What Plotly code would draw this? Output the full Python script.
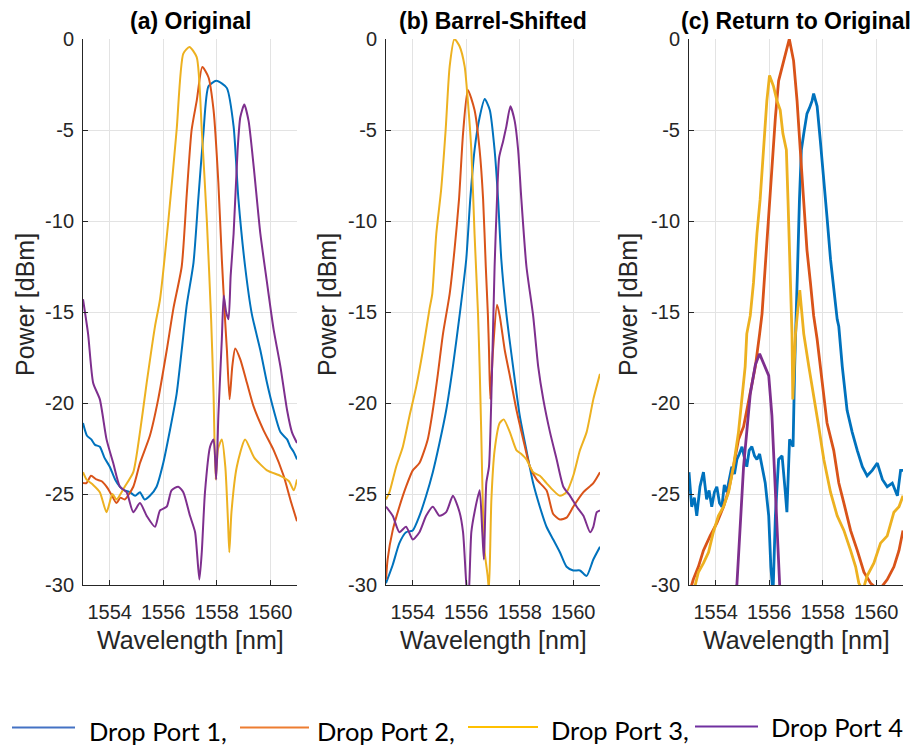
import plotly.graph_objects as go

# ---------------- data (wavelength in nm, power in dBm) ----------------
# Panel (a) Original
a_p1_x = [1553.0, 1553.15, 1553.31, 1553.45, 1553.63, 1553.8, 1554.0, 1554.2, 1554.38, 1554.55, 1554.75, 1554.95, 1555.13, 1555.3, 1555.5, 1555.75, 1556.0, 1556.25, 1556.5, 1556.69, 1556.88, 1557.13, 1557.31, 1557.5, 1557.69, 1557.98, 1558.2, 1558.38, 1558.63, 1558.81, 1559.06, 1559.31, 1559.63, 1559.88, 1560.13, 1560.38, 1560.63, 1560.75, 1560.88, 1561.0]
a_p1_y = [-21.1, -21.8, -22.0, -22.3, -22.4, -23.0, -23.5, -24.2, -24.6, -24.8, -24.9, -25.1, -24.9, -25.3, -25.1, -24.6, -23.3, -21.5, -19.5, -17.1, -14.6, -12.3, -8.8, -5.2, -2.6, -2.3, -2.45, -2.7, -4.8, -8.8, -12.5, -15.1, -17.1, -18.9, -20.4, -21.6, -22.0, -22.4, -22.7, -23.1]

a_p2_x = [1553.0, 1553.13, 1553.3, 1553.5, 1553.7, 1553.88, 1554.05, 1554.25, 1554.4, 1554.56, 1554.88, 1555.13, 1555.5, 1555.81, 1556.13, 1556.38, 1556.69, 1556.88, 1557.06, 1557.25, 1557.46, 1557.69, 1557.88, 1558.06, 1558.19, 1558.31, 1558.38, 1558.48, 1558.58, 1558.69, 1558.88, 1559.13, 1559.38, 1559.75, 1560.13, 1560.5, 1560.75, 1561.0]
a_p2_y = [-24.4, -24.4, -24.0, -24.2, -24.3, -24.6, -25.0, -25.5, -25.2, -25.3, -24.6, -23.3, -21.8, -19.8, -17.1, -14.8, -12.5, -8.5, -5.0, -3.4, -1.54, -2.1, -3.9, -7.9, -12.1, -15.4, -17.1, -19.8, -18.0, -17.0, -17.6, -18.9, -20.2, -21.5, -22.6, -24.0, -25.3, -26.5]

a_p3_x = [1553.0, 1553.13, 1553.38, 1553.63, 1553.88, 1554.1, 1554.25, 1554.56, 1554.88, 1555.13, 1555.38, 1555.69, 1555.88, 1556.19, 1556.5, 1556.75, 1556.98, 1557.25, 1557.44, 1557.63, 1557.79, 1557.88, 1557.96, 1558.05, 1558.19, 1558.32, 1558.42, 1558.47, 1558.55, 1558.75, 1559.06, 1559.4, 1559.88, 1560.38, 1560.7, 1560.88, 1561.0]
a_p3_y = [-23.8, -24.2, -24.5, -24.9, -26.0, -25.0, -25.3, -24.6, -23.8, -21.6, -18.9, -15.8, -14.3, -10.0, -5.0, -0.8, -0.44, -1.0, -5.0, -10.0, -15.4, -19.5, -24.2, -22.5, -22.0, -23.5, -26.5, -28.2, -26.0, -23.5, -22.0, -23.0, -23.7, -24.0, -24.3, -24.8, -24.2]

a_p4_x = [1553.0, 1553.19, 1553.38, 1553.63, 1553.88, 1554.13, 1554.38, 1554.63, 1554.88, 1555.13, 1555.38, 1555.69, 1555.88, 1556.13, 1556.31, 1556.56, 1556.75, 1557.0, 1557.19, 1557.35, 1557.44, 1557.56, 1557.75, 1557.88, 1557.98, 1558.06, 1558.19, 1558.26, 1558.35, 1558.44, 1558.52, 1558.63, 1558.78, 1558.88, 1559.03, 1559.19, 1559.38, 1559.63, 1559.88, 1560.03, 1560.13, 1560.38, 1560.63, 1560.81, 1561.0]
a_p4_y = [-14.3, -16.2, -18.9, -19.8, -22.0, -23.3, -24.6, -24.9, -26.0, -25.5, -26.2, -26.8, -25.9, -25.7, -24.8, -24.6, -24.9, -26.2, -27.1, -29.7, -28.2, -24.9, -22.4, -22.0, -24.2, -20.7, -16.5, -14.1, -15.0, -15.4, -13.0, -10.7, -6.1, -4.3, -3.6, -4.5, -7.0, -10.7, -13.4, -15.0, -16.0, -18.0, -20.4, -21.6, -22.2]

# Panel (b) Barrel-Shifted
b_p1_x = [1553.0, 1553.25, 1553.5, 1553.75, 1554.0, 1554.25, 1554.5, 1554.75, 1555.0, 1555.25, 1555.5, 1555.75, 1556.0, 1556.15, 1556.31, 1556.5, 1556.69, 1556.88, 1557.06, 1557.19, 1557.31, 1557.5, 1557.75, 1558.0, 1558.25, 1558.5, 1558.75, 1559.0, 1559.25, 1559.5, 1559.75, 1560.0, 1560.25, 1560.5, 1560.75, 1561.0]
b_p1_y = [-29.9, -28.9, -27.7, -27.1, -27.0, -26.2, -25.1, -23.8, -22.2, -20.4, -18.0, -15.2, -12.1, -8.8, -6.1, -4.3, -3.3, -3.9, -6.1, -8.8, -12.1, -15.1, -18.0, -20.7, -22.6, -24.4, -25.7, -26.8, -27.5, -28.2, -29.0, -29.2, -29.2, -29.5, -28.6, -27.9]

b_p2_x = [1553.0, 1553.06, 1553.25, 1553.5, 1553.75, 1554.0, 1554.25, 1554.56, 1554.75, 1554.94, 1555.13, 1555.38, 1555.56, 1555.73, 1555.88, 1556.06, 1556.31, 1556.5, 1556.63, 1556.73, 1556.81, 1556.85, 1556.9, 1557.0, 1557.15, 1557.25, 1557.44, 1557.63, 1557.88, 1558.13, 1558.38, 1558.63, 1559.0, 1559.25, 1559.5, 1559.75, 1560.0, 1560.38, 1560.75, 1561.0]
b_p2_y = [-29.7, -28.6, -27.0, -25.7, -24.6, -23.7, -23.3, -22.0, -20.4, -18.4, -16.2, -14.0, -11.6, -8.8, -5.2, -2.8, -3.9, -6.1, -8.8, -12.5, -15.2, -17.1, -19.8, -17.1, -14.6, -15.2, -17.1, -18.5, -20.4, -22.0, -23.5, -24.2, -24.8, -26.1, -26.4, -26.3, -25.7, -24.9, -24.4, -23.8]

b_p3_x = [1553.0, 1553.13, 1553.38, 1553.63, 1553.88, 1554.13, 1554.38, 1554.63, 1554.73, 1554.88, 1555.06, 1555.23, 1555.38, 1555.56, 1555.75, 1555.94, 1556.06, 1556.19, 1556.31, 1556.44, 1556.5, 1556.56, 1556.63, 1556.69, 1556.8, 1556.85, 1556.94, 1557.06, 1557.25, 1557.4, 1557.63, 1557.88, 1558.06, 1558.25, 1558.5, 1558.75, 1559.0, 1559.25, 1559.5, 1559.75, 1560.0, 1560.25, 1560.5, 1560.75, 1561.0]
b_p3_y = [-25.3, -24.9, -23.5, -22.4, -20.7, -19.1, -17.1, -14.8, -14.0, -10.7, -8.3, -5.0, -1.5, 0.0, -0.4, -1.5, -3.4, -6.1, -10.7, -15.1, -18.0, -21.6, -26.2, -28.2, -29.5, -30.3, -25.3, -22.6, -21.1, -20.9, -21.6, -22.6, -22.8, -23.1, -23.8, -24.0, -24.4, -24.8, -25.1, -24.9, -24.0, -22.6, -21.6, -19.8, -18.4]

b_p4_x = [1553.0, 1553.25, 1553.5, 1553.75, 1554.0, 1554.25, 1554.5, 1554.75, 1555.0, 1555.25, 1555.5, 1555.75, 1555.88, 1556.0, 1556.08, 1556.19, 1556.31, 1556.5, 1556.6, 1556.66, 1556.75, 1556.85, 1556.94, 1557.06, 1557.15, 1557.23, 1557.38, 1557.5, 1557.65, 1557.81, 1557.94, 1558.06, 1558.25, 1558.5, 1558.69, 1558.88, 1559.13, 1559.38, 1559.63, 1559.88, 1560.13, 1560.38, 1560.63, 1560.75, 1560.88, 1561.0]
b_p4_y = [-25.7, -26.2, -27.1, -26.8, -27.5, -27.1, -26.2, -25.7, -26.2, -26.0, -25.1, -26.0, -27.1, -29.9, -31.0, -27.1, -26.0, -24.8, -27.1, -28.6, -24.4, -23.5, -19.6, -12.5, -8.8, -6.5, -5.6, -4.8, -3.7, -4.5, -6.1, -8.8, -12.5, -15.2, -18.0, -19.8, -21.6, -23.1, -24.6, -25.1, -25.7, -26.2, -27.1, -26.8, -26.0, -25.9]

# Panel (c) Return to Original
c_p1_x = [1553.0, 1553.1, 1553.2, 1553.29, 1553.41, 1553.54, 1553.66, 1553.75, 1553.85, 1553.95, 1554.04, 1554.14, 1554.23, 1554.32, 1554.41, 1554.5, 1554.6, 1554.7, 1554.79, 1554.88, 1554.98, 1555.07, 1555.16, 1555.25, 1555.35, 1555.45, 1555.54, 1555.64, 1555.73, 1555.85, 1555.98, 1556.06, 1556.14, 1556.23, 1556.35, 1556.48, 1556.6, 1556.66, 1556.76, 1556.89, 1556.95, 1557.01, 1557.06, 1557.13, 1557.2, 1557.29, 1557.41, 1557.5, 1557.6, 1557.66, 1557.72, 1557.79, 1557.91, 1558.04, 1558.16, 1558.29, 1558.41, 1558.54, 1558.6, 1558.73, 1558.91, 1559.1, 1559.29, 1559.48, 1559.66, 1559.85, 1560.04, 1560.23, 1560.41, 1560.6, 1560.79, 1560.91, 1561.0]
c_p1_y = [-23.8, -25.7, -25.2, -26.2, -24.6, -23.8, -25.3, -24.8, -25.7, -24.9, -24.6, -25.5, -25.7, -24.5, -24.9, -24.2, -23.5, -23.9, -23.1, -22.8, -22.4, -23.0, -23.5, -22.6, -22.4, -22.9, -23.1, -22.8, -23.5, -24.4, -26.2, -29.0, -30.5, -26.2, -23.1, -22.9, -24.9, -26.0, -22.0, -22.4, -18.0, -14.3, -12.5, -8.8, -6.1, -5.2, -4.1, -3.8, -3.4, -3.0, -3.3, -3.7, -5.6, -7.6, -9.8, -12.1, -13.8, -15.4, -15.8, -18.0, -20.4, -21.6, -22.6, -23.5, -24.0, -23.7, -23.3, -24.2, -24.6, -24.4, -25.1, -23.7, -23.7]

c_p2_x = [1553.0, 1553.16, 1553.35, 1553.54, 1553.79, 1554.04, 1554.29, 1554.48, 1554.66, 1554.85, 1555.04, 1555.29, 1555.48, 1555.64, 1555.73, 1555.85, 1555.98, 1556.1, 1556.23, 1556.35, 1556.48, 1556.6, 1556.75, 1556.91, 1557.04, 1557.16, 1557.29, 1557.41, 1557.54, 1557.66, 1557.79, 1557.98, 1558.16, 1558.41, 1558.6, 1558.79, 1559.04, 1559.29, 1559.54, 1559.79, 1560.1, 1560.41, 1560.66, 1560.85, 1561.0]
c_p2_y = [-30.5, -29.7, -29.0, -28.1, -27.3, -26.6, -25.7, -24.8, -23.5, -22.0, -21.3, -19.5, -18.0, -16.2, -15.1, -12.5, -9.7, -7.0, -4.3, -2.3, -1.5, -0.8, 0.0, -1.2, -3.4, -6.1, -8.8, -11.6, -13.4, -15.2, -16.5, -18.9, -21.1, -22.6, -24.4, -25.5, -27.0, -28.1, -29.3, -29.9, -30.3, -29.7, -29.0, -28.1, -27.0]

c_p3_x = [1553.0, 1553.2, 1553.35, 1553.54, 1553.73, 1553.91, 1554.1, 1554.29, 1554.48, 1554.66, 1554.85, 1554.98, 1555.1, 1555.16, 1555.29, 1555.41, 1555.54, 1555.66, 1555.79, 1555.91, 1556.01, 1556.16, 1556.29, 1556.41, 1556.51, 1556.64, 1556.7, 1556.76, 1556.81, 1556.85, 1556.88, 1556.98, 1557.14, 1557.29, 1557.48, 1557.66, 1557.85, 1558.04, 1558.29, 1558.54, 1558.79, 1559.04, 1559.23, 1559.35, 1559.5, 1559.66, 1559.91, 1560.16, 1560.41, 1560.66, 1560.85, 1561.0]
c_p3_y = [-31.0, -30.2, -29.3, -28.8, -28.2, -27.1, -26.2, -25.7, -24.9, -23.5, -21.6, -19.8, -18.0, -16.2, -15.2, -13.4, -10.7, -8.8, -6.1, -3.4, -2.0, -2.6, -3.4, -3.9, -5.2, -6.1, -8.8, -11.6, -14.3, -16.2, -19.8, -16.2, -13.8, -16.2, -18.0, -19.5, -21.3, -23.1, -24.9, -26.2, -27.0, -28.1, -29.0, -29.9, -30.3, -29.5, -28.8, -27.7, -27.3, -26.0, -25.7, -25.1]

c_p4_x = [1553.0, 1553.5, 1554.0, 1554.5, 1554.79, 1555.04, 1555.29, 1555.48, 1555.64, 1555.79, 1555.98, 1556.1, 1556.19, 1556.29, 1556.39, 1556.6, 1557.0, 1558.0, 1559.0, 1560.0, 1561.0]
c_p4_y = [-36.0, -36.0, -35.0, -34.0, -30.0, -23.5, -19.5, -17.9, -17.3, -17.8, -18.5, -20.7, -23.5, -27.1, -30.0, -34.0, -36.0, -38.0, -38.0, -38.0, -38.0]

series_names = ["Drop Port 1", "Drop Port 2", "Drop Port 3", "Drop Port 4"]
panel_titles = ["(a) Original", "(b) Barrel-Shifted", "(c) Return to Original"]
x_ticks = [1554, 1556, 1558, 1560]
y_ticks = [0, -5, -10, -15, -20, -25, -30]
x_range = [1553, 1561]
y_range = [-30, 0]
legend_labels = ["Drop Port 1,", "Drop Port 2,", "Drop Port 3,", "Drop Port 4"]

panels = [
    [(a_p1_x, a_p1_y), (a_p2_x, a_p2_y), (a_p3_x, a_p3_y), (a_p4_x, a_p4_y)],
    [(b_p1_x, b_p1_y), (b_p2_x, b_p2_y), (b_p3_x, b_p3_y), (b_p4_x, b_p4_y)],
    [(c_p1_x, c_p1_y), (c_p2_x, c_p2_y), (c_p3_x, c_p3_y), (c_p4_x, c_p4_y)],
]

# ---------------- styling ----------------
W, H = 912, 749
line_colors = ["#0072BD", "#D95319", "#EDB120", "#7E2F8E"]
legend_colors = ["#4472C4", "#ED7D31", "#FFC000", "#7030A0"]
line_widths = [2.0, 2.0, 2.8]
line_shapes = ["spline", "spline", "linear"]
ax_left_px = [83, 386, 689]
ax_width_px = 214
ax_top_px, ax_bot_px = 39, 585
ylabel_x_px = [25, 327, 628]
axis_gray = "#262626"
font_main = "Liberation Sans, Arial, sans-serif"

fig = go.Figure()
for pi, panel in enumerate(panels):
    suffix = "" if pi == 0 else str(pi + 1)
    for si, (xs, ys) in enumerate(panel):
        line = dict(color=line_colors[si], width=line_widths[pi], shape=line_shapes[pi])
        if line_shapes[pi] == "spline":
            line["smoothing"] = 0.6
        fig.add_trace(go.Scatter(
            x=xs, y=ys, mode="lines", name=series_names[si], line=line,
            xaxis="x" + suffix, yaxis="y" + suffix, showlegend=False,
        ))

layout = dict(
    width=W, height=H, margin=dict(l=0, r=0, t=0, b=0, autoexpand=False),
    paper_bgcolor="white", plot_bgcolor="white", showlegend=False,
    font=dict(family=font_main, color=axis_gray, size=20),
)
y0 = 1 - ax_bot_px / H
y1 = 1 - ax_top_px / H
annotations = []
shapes = []
for pi in range(3):
    suffix = "" if pi == 0 else str(pi + 1)
    x0 = ax_left_px[pi] / W
    x1 = (ax_left_px[pi] + ax_width_px) / W
    common = dict(
        ticks="inside", ticklen=5, tickcolor=axis_gray, tickwidth=1,
        showline=True, linecolor=axis_gray, linewidth=1,
        showgrid=True, gridcolor="#e3e3e3", gridwidth=1, zeroline=False,
        tickfont=dict(size=20, color=axis_gray, family=font_main),
        automargin=False,
    )
    layout["xaxis" + suffix] = dict(
        domain=[x0, x1], range=x_range, anchor="y" + suffix,
        tickvals=x_ticks, ticktext=[str(t) for t in x_ticks],
        ticklabelstandoff=9, **common,
    )
    layout["yaxis" + suffix] = dict(
        domain=[y0, y1], range=y_range, anchor="x" + suffix,
        tickvals=y_ticks, ticktext=[str(t) for t in y_ticks],
        ticklabelstandoff=4, **common,
    )
    cx = (ax_left_px[pi] + ax_width_px / 2) / W
    annotations.append(dict(
        text="<b>" + panel_titles[pi] + "</b>", x=cx, y=1 - 21 / H,
        xref="paper", yref="paper", xanchor="center", yanchor="middle",
        showarrow=False, font=dict(size=23, color="black", family=font_main),
    ))
    annotations.append(dict(
        text="Power [dBm]", x=ylabel_x_px[pi] / W, y=1 - 305 / H, textangle=-90,
        xref="paper", yref="paper", xanchor="center", yanchor="middle",
        showarrow=False, font=dict(size=25, color=axis_gray, family=font_main),
    ))
    annotations.append(dict(
        text="Wavelength [nm]", x=cx, y=1 - 640 / H,
        xref="paper", yref="paper", xanchor="center", yanchor="middle",
        showarrow=False, font=dict(size=25, color=axis_gray, family=font_main),
    ))

# custom legend below the panels
leg_line_px = [(12, 75, 727.5), (240, 309, 727.5), (468, 538, 727), (695, 758, 726.5)]
leg_text_px = [(87, 731), (315, 731), (549, 729.5), (769, 727)]
for i in range(4):
    lx0, lx1, ly = leg_line_px[i]
    shapes.append(dict(type="line", xref="paper", yref="paper",
                       x0=lx0 / W, x1=lx1 / W, y0=1 - ly / H, y1=1 - ly / H,
                       line=dict(color=legend_colors[i], width=2.2)))
    tx, ty = leg_text_px[i]
    annotations.append(dict(
        text=legend_labels[i], x=tx / W, y=1 - ty / H,
        xref="paper", yref="paper", xanchor="left", yanchor="middle",
        showarrow=False, font=dict(size=25.5, color="black", family="Lato, Noto Sans, sans-serif"),
    ))

layout["annotations"] = annotations
layout["shapes"] = shapes
fig.update_layout(**layout)
fig.write_html("out.html")
